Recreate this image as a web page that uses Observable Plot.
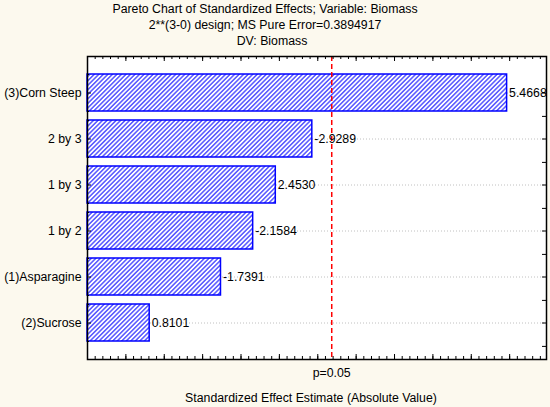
<!DOCTYPE html>
<html>
<head>
<meta charset="utf-8">
<script src="https://cdn.jsdelivr.net/npm/d3@7"></script>
<script src="https://cdn.jsdelivr.net/npm/@observablehq/plot@0.6"></script>
<style>
  body { margin: 0; background: #fcf9ee; }
</style>
</head>
<body>
<div id="chart"></div>
<script>
// effects, in the order shown (top to bottom)
const factors = ["(3)Corn Steep", "2 by 3", "1 by 3", "1 by 2", "(1)Asparagine", "(2)Sucrose"];
const effects = [5.4668, -2.9289, 2.4530, -2.1584, -1.7391, 0.8101];
const pCrit = 3.182; // t critical value, p=0.05
const titleLines = [
  "Pareto Chart of Standardized Effects; Variable: Biomass",
  "2**(3-0) design; MS Pure Error=0.3894917",
  "DV: Biomass"
];

const data = factors.map((f, i) => ({factor: f, effect: effects[i], abs: Math.abs(effects[i])}));

const minorTicks = d3.range(0, 60).map(i => i / 10);
const majorTicks = minorTicks.filter((d, i) => i % 5 === 0);

const font = "'Liberation Sans', Arial, sans-serif";

// hatch pattern for the bars
const hatch = () => {
  const defs = d3.create("svg:defs");
  const p = defs.append("pattern")
    .attr("id", "hatch")
    .attr("patternUnits", "userSpaceOnUse")
    .attr("width", 3.2)
    .attr("height", 3.2)
    .attr("patternTransform", "rotate(45)");
  p.append("rect").attr("width", 3.2).attr("height", 3.2).attr("fill", "white");
  p.append("line").attr("x1", 0.8).attr("y1", 0).attr("x2", 0.8).attr("y2", 3.2)
    .attr("stroke", "#2a2aff").attr("stroke-width", 1.2);
  return defs.node();
};

const chart = Plot.plot({
  width: 550,
  height: 407,
  marginTop: 56,
  marginBottom: 48,
  marginLeft: 87,
  marginRight: 4,
  style: {background: "#fcf9ee", fontFamily: font, fontSize: "12.3px", color: "black"},
  x: {domain: [0, 5.98], axis: null},
  y: {domain: factors, paddingInner: 0.2, paddingOuter: 0.33, axis: null},
  marks: [
    hatch,
    Plot.frame({fill: "white"}),
    Plot.ruleY(factors, {y: d => d, stroke: "#b0b0b0", strokeDasharray: "1,2", strokeWidth: 0.8}),
    Plot.barX(data, {x: "abs", y: "factor", fill: "url(#hatch)", stroke: "#0000ff", strokeWidth: 1.5}),
    Plot.ruleX([pCrit], {x: d => d, stroke: "#ff0000", strokeWidth: 1.5, strokeDasharray: "5,3"}),
    Plot.text(data, {x: "abs", y: "factor", text: d => d.effect.toFixed(4), textAnchor: "start", dx: 2, fill: "black"}),
    // y labels
    Plot.text(factors, {y: d => d, frameAnchor: "left", text: d => d, textAnchor: "end", dx: -6, fill: "black"}),
    // frame ticks
    Plot.ruleX(minorTicks, {x: d => d, insetTop: 300, stroke: "black"}),
    Plot.ruleX(majorTicks, {x: d => d, insetTop: 298, stroke: "black"}),
    Plot.ruleX(minorTicks, {x: d => d, insetBottom: 300, stroke: "black"}),
    Plot.ruleX(majorTicks, {x: d => d, insetBottom: 298, stroke: "black"}),
    Plot.tickY(factors, {y: d => d, insetRight: 455, stroke: "black"}),
    Plot.tickY(factors, {y: d => d, insetRight: 457, dy: -18.5, stroke: "black"}),
    Plot.tickY(factors, {y: d => d, insetRight: 457, dy: 18.5, stroke: "black"}),
    Plot.tickY(factors, {y: d => d, insetLeft: 455, stroke: "black"}),
    Plot.tickY(factors, {y: d => d, insetLeft: 455, dy: 23.4, stroke: "black"}),
    Plot.frame({stroke: "black", strokeWidth: 1.5}),
    // titles
    Plot.text([titleLines[0]], {frameAnchor: "top", lineAnchor: "middle", text: d => d, dx: -52, dy: -47, fill: "black"}),
    Plot.text([titleLines[1]], {frameAnchor: "top", lineAnchor: "middle", text: d => d, dx: -52, dy: -31, fill: "black"}),
    Plot.text([titleLines[2]], {frameAnchor: "top", lineAnchor: "middle", text: d => d, dx: -45, dy: -15, fill: "black"}),
    // x axis labels
    Plot.text([pCrit], {x: d => d, frameAnchor: "bottom", lineAnchor: "middle", text: () => "p=0.05", dy: 14, fill: "black"}),
    Plot.text(["Standardized Effect Estimate (Absolute Value)"], {frameAnchor: "bottom", lineAnchor: "middle", text: d => d, dx: -6, dy: 39, fill: "black"})
  ]
});

document.getElementById("chart").append(chart);
</script>
</body>
</html>
